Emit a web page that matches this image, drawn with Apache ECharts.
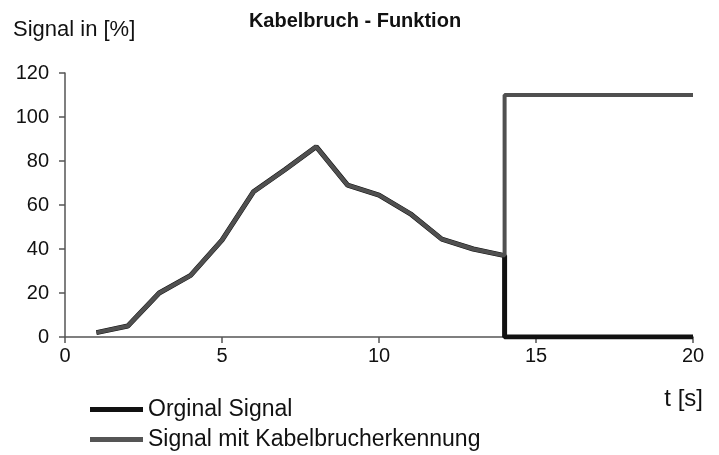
<!DOCTYPE html>
<html>
<head>
<meta charset="utf-8">
<script src="https://cdn.jsdelivr.net/npm/echarts@6/dist/echarts.min.js"></script>
<style>
  html, body { margin: 0; padding: 0; background: #fff; }
  #main { width: 719px; height: 455px; }
</style>
</head>
<body>
<div id="main"></div>
<script>
// Messwerte bis zum Kabelbruch
var timeSteps = [1, 2, 3, 4, 5, 6, 7, 8, 9, 10, 11, 12, 13, 14];
var signalValues = [2, 5, 20, 28, 44, 66, 76, 86.5, 69, 64.5, 56, 44.5, 40, 37];
// nach dem Bruch
var breakTime = 14;
var endTime = 20;
var originalAfterBreak = 0;
var detectionAfterBreak = 110;
var xTicks = [0, 5, 10, 15, 20];
var yTicks = [0, 20, 40, 60, 80, 100, 120];

var font = 'Liberation Sans, Arial, sans-serif';

var original = [];
var detection = [];
for (var i = 0; i < timeSteps.length; i++) {
    original.push([timeSteps[i], signalValues[i]]);
    detection.push([timeSteps[i], signalValues[i]]);
}
original.push([breakTime, originalAfterBreak]);
original.push([endTime, originalAfterBreak]);
detection.push([breakTime, detectionAfterBreak]);
detection.push([endTime, detectionAfterBreak]);

var chart = echarts.init(document.getElementById('main'));
var option = {
    animation: false,
    backgroundColor: '#fff',
    title: {
        text: 'Kabelbruch - Funktion',
        left: 350,
        textAlign: 'center',
        top: 6,
        textStyle: { fontFamily: font, fontSize: 20, fontWeight: 'bold', color: '#111' }
    },
    graphic: [
        { type: 'text', left: 13, top: 19, style: { text: 'Signal in [%]', font: '22px ' + font, fill: '#111' } },
        { type: 'text', right: 16, top: 387, style: { text: 't [s]', font: '24px ' + font, fill: '#111' } }
    ],
    legend: {
        orient: 'vertical',
        left: 90,
        top: 398,
        padding: 0,
        itemGap: 7,
        itemWidth: 53,
        itemHeight: 5,
        icon: 'rect',
        textStyle: { fontFamily: font, fontSize: 23, color: '#111' },
        data: ['Orginal Signal', 'Signal mit Kabelbrucherkennung']
    },
    grid: { left: 65, right: 26, top: 73, bottom: 118, containLabel: false },
    xAxis: {
        type: 'value',
        min: xTicks[0],
        max: xTicks[xTicks.length - 1],
        interval: 5,
        splitLine: { show: false },
        axisLine: { lineStyle: { color: '#555', width: 1.5 } },
        axisTick: { length: 6, lineStyle: { color: '#555', width: 1.5 } },
        axisLabel: { margin: 9, fontFamily: font, fontSize: 20, color: '#111' }
    },
    yAxis: {
        type: 'value',
        min: yTicks[0],
        max: yTicks[yTicks.length - 1],
        interval: 20,
        splitLine: { show: false },
        axisLine: { show: true, lineStyle: { color: '#555', width: 1.5 } },
        axisTick: { show: true, length: 6, lineStyle: { color: '#555', width: 1.5 } },
        axisLabel: { margin: 16, fontFamily: font, fontSize: 20, color: '#111' }
    },
    series: [
        {
            name: 'Orginal Signal',
            type: 'line',
            data: original,
            symbol: 'none',
            color: '#111',
            lineStyle: { color: '#111', width: 5 }
        },
        {
            name: 'Signal mit Kabelbrucherkennung',
            type: 'line',
            data: detection,
            symbol: 'none',
            color: '#555',
            lineStyle: { color: '#505050', width: 4 }
        }
    ]
};
chart.setOption(option);
</script>
</body>
</html>
